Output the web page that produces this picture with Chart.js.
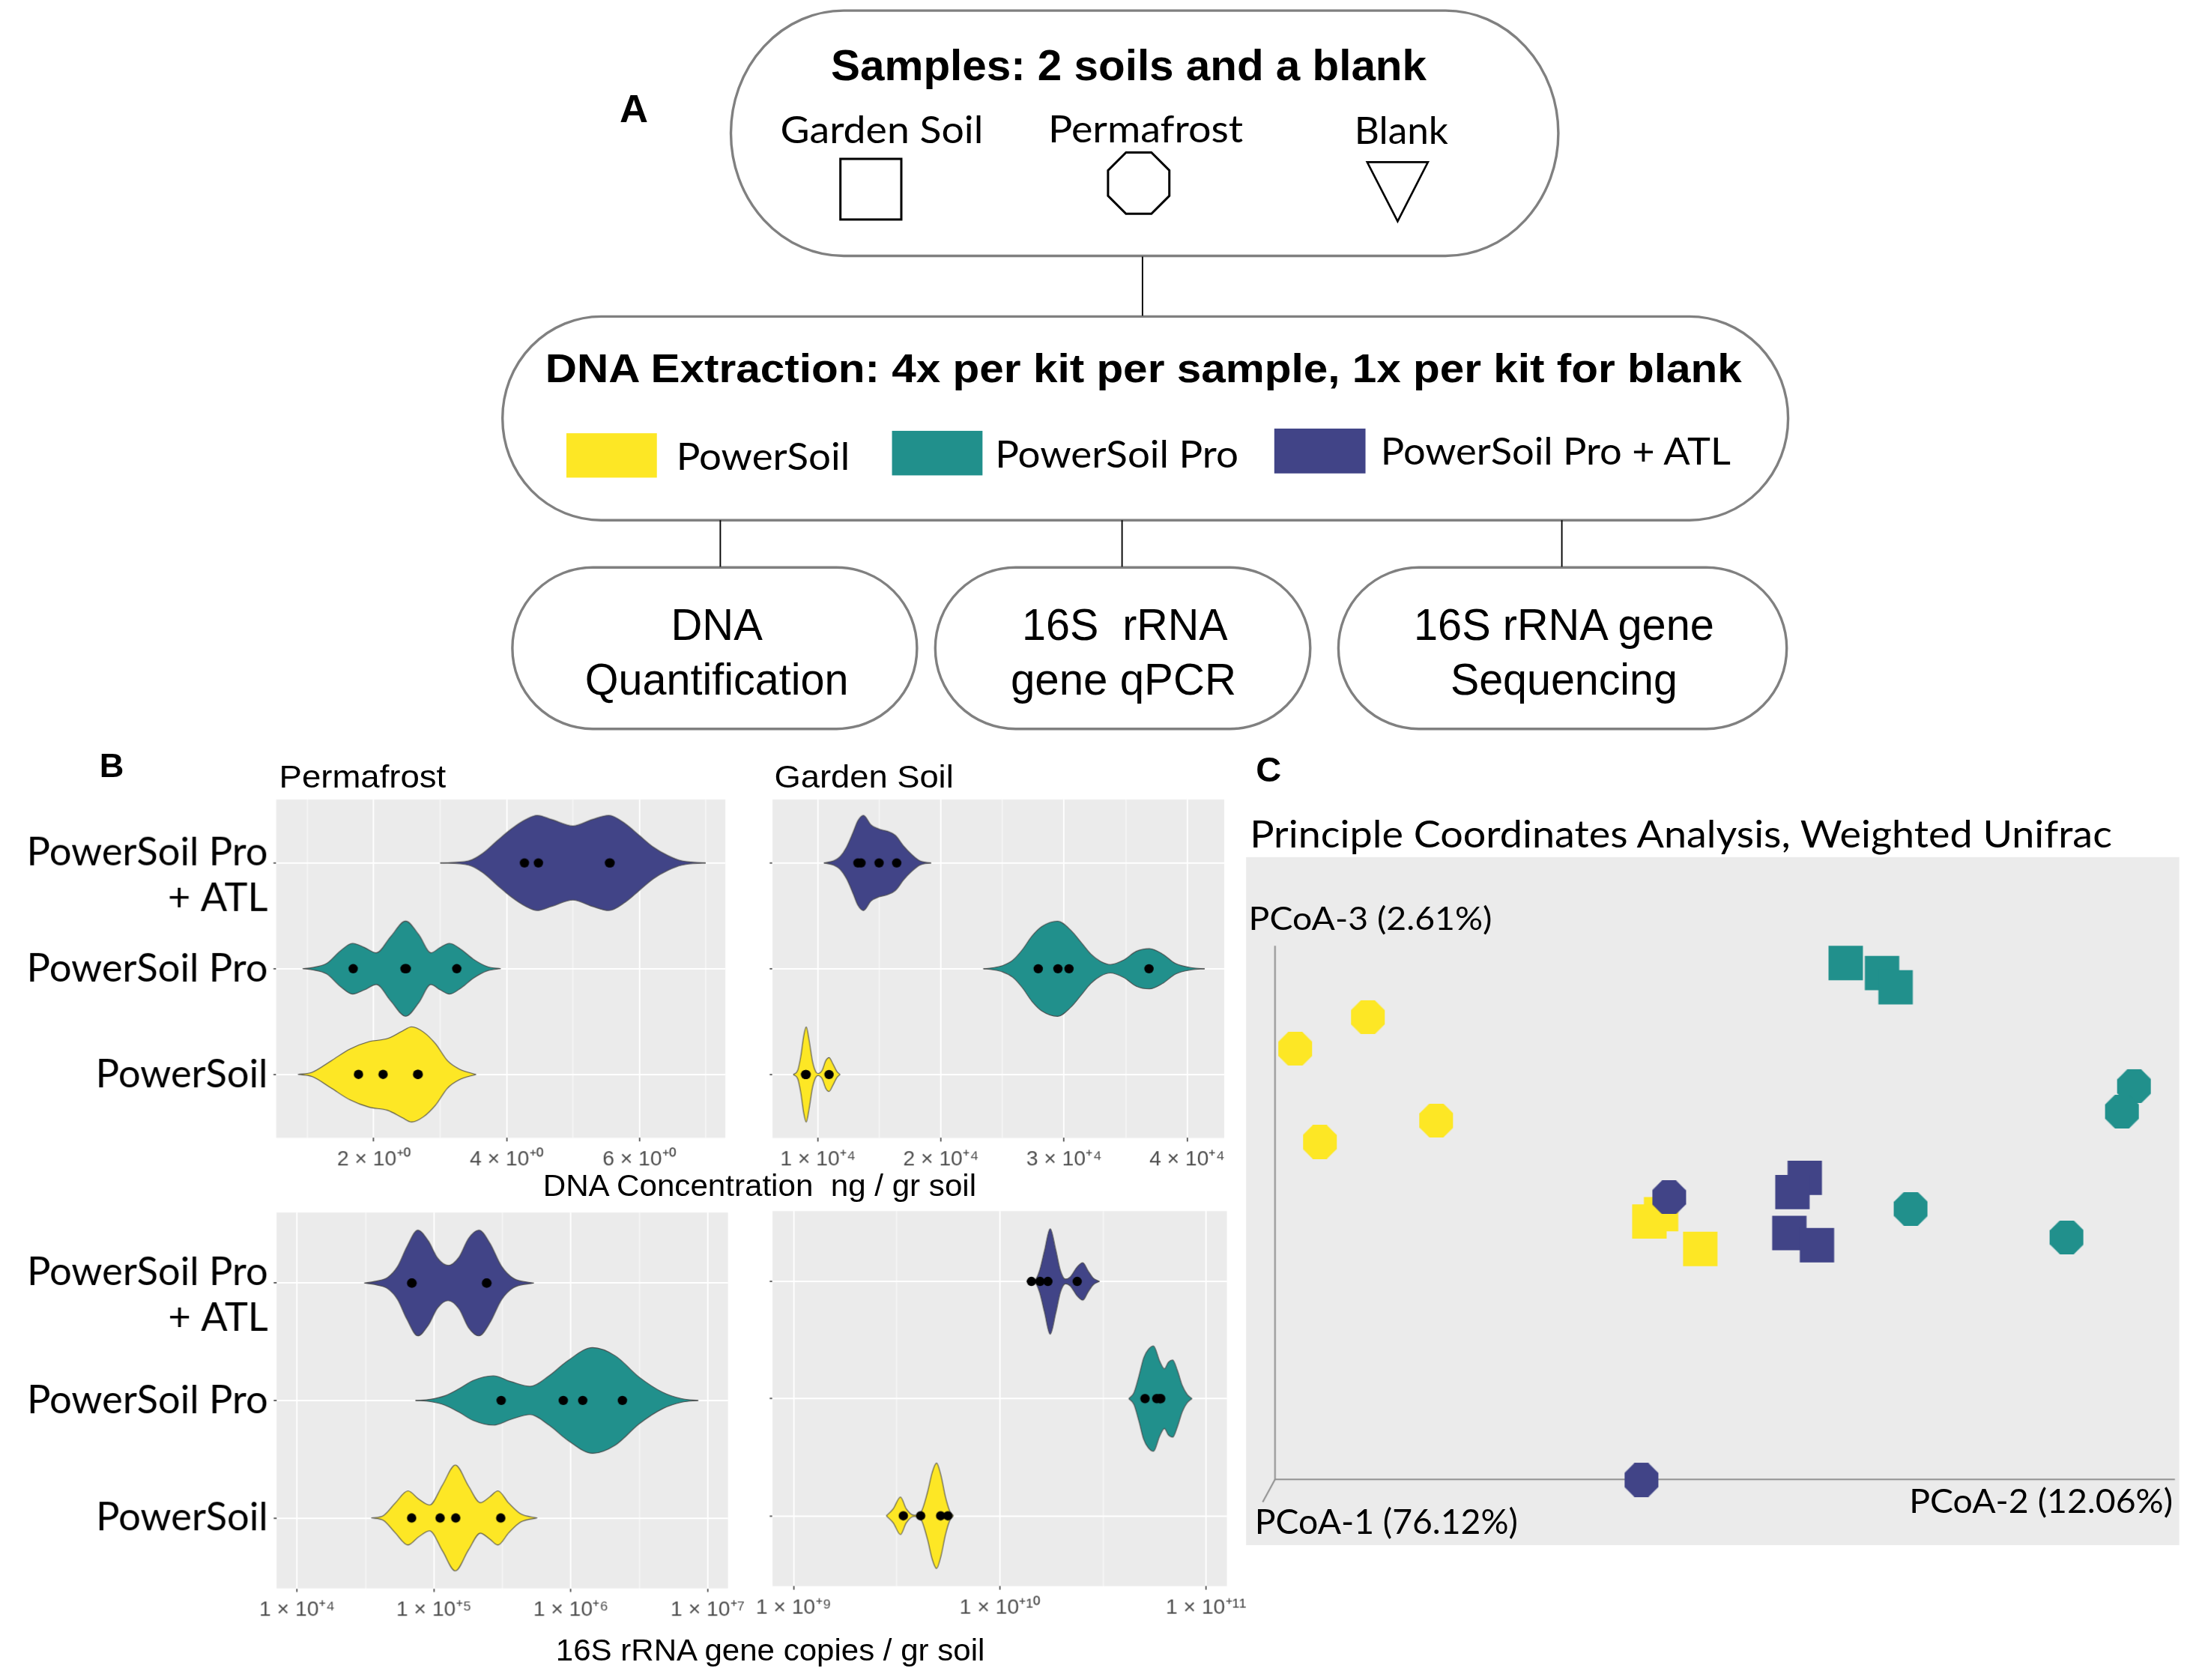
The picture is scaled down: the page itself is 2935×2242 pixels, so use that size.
<!DOCTYPE html>
<html>
<head>
<meta charset="utf-8">
<script src="https://cdn.jsdelivr.net/npm/chart.js@4.4.1/dist/chart.umd.min.js"></script>
<style>
html,body{margin:0;padding:0;background:#fff;overflow:hidden;width:2935px;height:2242px}
#wrap{position:absolute;left:0;top:0;width:1560px;height:1192px;transform:scale(1.881410);transform-origin:0 0;}
#wrap canvas{position:absolute}
#ov{position:absolute;left:0;top:0;pointer-events:none;z-index:5}
.b{font-family:"Liberation Sans",Arial,sans-serif;font-weight:bold}
.a{font-family:"Liberation Sans",Arial,sans-serif}
.c{font-family:Lato,"Open Sans",sans-serif}
</style>
</head>
<body>
<div id="wrap">
<svg id="ov" width="1560" height="1192" viewBox="0 0 1560 1192">
  <g fill="none" stroke="#808080" stroke-width="1.8">
    <rect x="518.5" y="7.5" width="587" height="174" rx="80" ry="87"/>
    <rect x="356.5" y="224.5" width="912" height="144.5" rx="70" ry="72"/>
    <rect x="363.5" y="402.5" width="287" height="114.5" rx="57" ry="57"/>
    <rect x="663.5" y="402.5" width="266" height="114.5" rx="57" ry="57"/>
    <rect x="949.5" y="402.5" width="318" height="114.5" rx="57" ry="57"/>
  </g>
  <g stroke="#000" stroke-width="1">
    <line x1="810.5" y1="182" x2="810.5" y2="224"/>
    <line x1="511" y1="369" x2="511" y2="402"/>
    <line x1="796" y1="369" x2="796" y2="402"/>
    <line x1="1108" y1="369" x2="1108" y2="402"/>
  </g>
  <rect x="596.2" y="112.7" width="43.2" height="43" fill="#fff" stroke="#000" stroke-width="1.6"/>
  <polygon points="829.55,120.89 829.55,138.91 816.81,151.65 798.79,151.65 786.05,138.91 786.05,120.89 798.79,108.15 816.81,108.15" fill="#fff" stroke="#000" stroke-width="1.6"/>
  <polygon points="969.9,115 1013,115 991.5,157" fill="#fff" stroke="#000" stroke-width="1.4"/>
  <rect x="401.8" y="307.3" width="64.2" height="31.5" fill="#FDE725"/>
  <rect x="632.8" y="305.6" width="64.2" height="31.6" fill="#21908C"/>
  <rect x="904" y="304" width="64.7" height="31.8" fill="#414487"/>

  <text class="b" x="439.6" y="86.6" font-size="28">A</text>
  <text class="b" x="589.5" y="56.9" font-size="30.5" textLength="422.5" lengthAdjust="spacingAndGlyphs">Samples: 2 soils and a blank</text>
  <text class="c" x="553.6" y="101.6" font-size="26.5" textLength="143.9" lengthAdjust="spacingAndGlyphs">Garden Soil</text>
  <text class="c" x="743.6" y="100.9" font-size="26.5" textLength="138.2" lengthAdjust="spacingAndGlyphs">Permafrost</text>
  <text class="c" x="960.9" y="102" font-size="26.5" textLength="66.5" lengthAdjust="spacingAndGlyphs">Blank</text>
  <text class="b" x="386.8" y="271.2" font-size="29" textLength="848.9" lengthAdjust="spacingAndGlyphs">DNA Extraction: 4x per kit per sample, 1x per kit for blank</text>
  <text class="c" x="479.8" y="333.4" font-size="26.5" textLength="123" lengthAdjust="spacingAndGlyphs">PowerSoil</text>
  <text class="c" x="706" y="331.5" font-size="26.5" textLength="172.6" lengthAdjust="spacingAndGlyphs">PowerSoil Pro</text>
  <text class="c" x="979.5" y="329.8" font-size="26.5" textLength="248.3" lengthAdjust="spacingAndGlyphs">PowerSoil Pro + ATL</text>
  <g class="a" font-size="31" text-anchor="middle" style="white-space:pre">
    <text x="508.5" y="454" textLength="65" lengthAdjust="spacingAndGlyphs">DNA</text>
    <text x="508.5" y="492.5" textLength="187" lengthAdjust="spacingAndGlyphs">Quantification</text>
    <text x="798" y="454" textLength="146" lengthAdjust="spacingAndGlyphs" xml:space="preserve">16S  rRNA</text>
    <text x="797" y="492.5" textLength="160" lengthAdjust="spacingAndGlyphs">gene qPCR</text>
    <text x="1109.5" y="454" textLength="213" lengthAdjust="spacingAndGlyphs">16S rRNA gene</text>
    <text x="1109.5" y="492.5" textLength="161" lengthAdjust="spacingAndGlyphs">Sequencing</text>
  </g>

  <text class="b" x="70.5" y="551" font-size="24">B</text>
  <text class="a" x="198" y="558.8" font-size="23" textLength="118.4" lengthAdjust="spacingAndGlyphs">Permafrost</text>
  <text class="a" x="549.3" y="558.8" font-size="23" textLength="127.2" lengthAdjust="spacingAndGlyphs">Garden Soil</text>
  <text class="a" x="385.2" y="848.5" font-size="22" textLength="307.4" lengthAdjust="spacingAndGlyphs" xml:space="preserve" style="white-space:pre">DNA Concentration  ng / gr soil</text>
  <text class="a" x="394.3" y="1178" font-size="22" textLength="304.3" lengthAdjust="spacingAndGlyphs">16S rRNA gene copies / gr soil</text>

  <text class="b" x="891" y="554.6" font-size="25">C</text>
  <text class="c" x="886.7" y="601.3" font-size="27" textLength="611.6" lengthAdjust="spacingAndGlyphs">Principle Coordinates Analysis, Weighted Unifrac</text>
  <text class="c" x="885.8" y="659.6" font-size="23" textLength="172.7" lengthAdjust="spacingAndGlyphs">PCoA-3 (2.61%)</text>
  <text class="c" x="890.2" y="1087.8" font-size="24.5" textLength="186.6" lengthAdjust="spacingAndGlyphs">PCoA-1 (76.12%)</text>
  <text class="c" x="1354.4" y="1072.9" font-size="24" textLength="187.1" lengthAdjust="spacingAndGlyphs">PCoA-2 (12.06%)</text>
</svg>
</div>
<script>
// ---------------- DATA ----------------
const kitColors = { ps: '#FDE725', psp: '#21908C', atl: '#414487' };
const kitRows = { ps: 1, psp: 2, atl: 3 };

// Panel B, top-left: Permafrost DNA concentration (ng / gr soil), linear
const pfDnaPS = [1.77, 2.14, 2.66, 2.67];
const pfDnaPSP = [1.69, 2.47, 2.49, 3.25];
const pfDnaATL = [4.27, 4.48, 5.55, 5.56];
// violin outlines: positions and half-widths (row units)
const pfDnaPS_vx = [0.86, 1.07, 1.36, 1.64, 1.93, 2.21, 2.43, 2.57, 2.75, 2.93, 3.11, 3.29, 3.54];
const pfDnaPS_vw = [0, 0.02, 0.13, 0.24, 0.31, 0.34, 0.41, 0.45, 0.40, 0.29, 0.13, 0.05, 0];
const pfDnaPSP_vx = [0.93, 1.07, 1.29, 1.50, 1.68, 1.86, 2.04, 2.25, 2.48, 2.68, 2.86, 3.00, 3.14, 3.32, 3.50, 3.71, 3.91];
const pfDnaPSP_vw = [0, 0.01, 0.05, 0.17, 0.24, 0.20, 0.15, 0.30, 0.45, 0.32, 0.15, 0.20, 0.24, 0.18, 0.09, 0.02, 0];
const pfDnaATL_vx = [3.00, 3.43, 3.64, 3.86, 4.07, 4.29, 4.46, 4.68, 5.00, 5.29, 5.54, 5.79, 6.00, 6.21, 6.43, 6.64, 7.00];
const pfDnaATL_vw = [0, 0.02, 0.09, 0.21, 0.32, 0.41, 0.45, 0.41, 0.35, 0.41, 0.45, 0.37, 0.26, 0.15, 0.07, 0.02, 0];
const pfDnaRange = [0.531, 7.296];
const pfDnaTicks = [2, 4, 6];
const pfDnaTickLabels = ['2 × 10⁺⁰', '4 × 10⁺⁰', '6 × 10⁺⁰'];
const pfDnaMinor = [1, 3, 5, 7];

// Panel B, top-right: Garden Soil DNA concentration (ng / gr soil), linear
const gsDnaPS = [9000, 9020, 9040, 10900];
const gsDnaPSP = [27900, 29500, 30400, 36900];
const gsDnaATL = [13250, 13500, 14970, 16400];
const gsDnaPS_vx = [8000, 8360, 8620, 8840, 9050, 9290, 9550, 9810, 10000, 10340, 10630, 10900, 11220, 11530, 11800];
const gsDnaPS_vw = [0, 0.04, 0.18, 0.36, 0.45, 0.32, 0.13, 0.03, 0.01, 0.04, 0.13, 0.16, 0.10, 0.03, 0];
const gsDnaPSP_vx = [23440, 24230, 25000, 25820, 26610, 27400, 28200, 29470, 30580, 31380, 32170, 32960, 33760, 34810, 35870, 36930, 37990, 39050, 40370, 41430];
const gsDnaPSP_vw = [0, 0.01, 0.03, 0.08, 0.18, 0.31, 0.40, 0.45, 0.36, 0.25, 0.14, 0.07, 0.04, 0.08, 0.165, 0.19, 0.14, 0.05, 0.01, 0];
const gsDnaATL_vx = [10480, 11270, 11800, 12330, 12860, 13250, 13700, 14310, 14970, 15630, 16300, 16960, 17620, 18280, 19200];
const gsDnaATL_vw = [0, 0.02, 0.06, 0.15, 0.29, 0.40, 0.45, 0.36, 0.32, 0.30, 0.26, 0.16, 0.08, 0.02, 0];
const gsDnaRange = [6310, 43014];
const gsDnaTicks = [10000, 20000, 30000, 40000];
const gsDnaTickLabels = ['1 × 10⁺⁴', '2 × 10⁺⁴', '3 × 10⁺⁴', '4 × 10⁺⁴'];
const gsDnaMinor = [15000, 25000, 35000];

// Panel B, bottom-left: Permafrost 16S rRNA gene copies / gr soil (log10 values)
const pf16sPS = [4.837, 5.045, 5.159, 5.488];
const pf16sPSP = [5.491, 5.945, 6.087, 6.377];
const pf16sATL = [4.837, 4.840, 5.384, 5.387];
const pf16sPS_vx = [4.543, 4.63, 4.716, 4.81, 4.889, 4.969, 5.062, 5.156, 5.253, 5.339, 5.408, 5.467, 5.547, 5.633, 5.754];
const pf16sPS_vw = [0, 0.02, 0.125, 0.23, 0.16, 0.11, 0.28, 0.45, 0.27, 0.13, 0.18, 0.23, 0.125, 0.035, 0];
const pf16sPSP_vx = [4.865, 4.976, 5.08, 5.183, 5.287, 5.433, 5.564, 5.702, 5.841, 5.979, 6.159, 6.325, 6.498, 6.671, 6.81, 6.931];
const pf16sPSP_vw = [0, 0.01, 0.04, 0.10, 0.17, 0.21, 0.16, 0.12, 0.21, 0.34, 0.45, 0.38, 0.20, 0.07, 0.015, 0];
const pf16sATL_vx = [4.491, 4.595, 4.664, 4.734, 4.803, 4.882, 4.958, 5.028, 5.104, 5.183, 5.253, 5.329, 5.408, 5.495, 5.581, 5.73];
const pf16sATL_vw = [0, 0.02, 0.05, 0.14, 0.31, 0.45, 0.36, 0.21, 0.15, 0.22, 0.38, 0.45, 0.34, 0.14, 0.04, 0];
const pf16sRange = [3.8495, 7.148];
const pf16sTicks = [1e4, 1e5, 1e6, 1e7];
const pf16sTickLabels = ['1 × 10⁺⁴', '1 × 10⁺⁵', '1 × 10⁺⁶', '1 × 10⁺⁷'];
const pf16sMinor = [31623, 316228, 3162278];

// Panel B, bottom-right: Garden Soil 16S rRNA gene copies / gr soil (log10 values)
const gs16sPS = [9.532, 9.616, 9.713, 9.748];
const gs16sPSP = [10.704, 10.761, 10.776, 10.780];
const gs16sATL = [10.153, 10.195, 10.233, 10.375];
const gs16sPS_vx = [9.449, 9.483, 9.518, 9.546, 9.583, 9.617, 9.649, 9.672, 9.693, 9.715, 9.735, 9.756, 9.775];
const gs16sPS_vw = [0, 0.06, 0.16, 0.06, 0.005, 0.03, 0.20, 0.37, 0.45, 0.34, 0.17, 0.045, 0];
const gs16sPSP_vx = [10.625, 10.65, 10.674, 10.698, 10.72, 10.745, 10.775, 10.798, 10.817, 10.838, 10.861, 10.885, 10.909, 10.932];
const gs16sPSP_vw = [0, 0.05, 0.19, 0.35, 0.42, 0.45, 0.32, 0.255, 0.31, 0.33, 0.24, 0.11, 0.035, 0];
const gs16sATL_vx = [10.129, 10.169, 10.192, 10.216, 10.244, 10.271, 10.294, 10.318, 10.342, 10.373, 10.402, 10.428, 10.452, 10.483];
const gs16sATL_vw = [0, 0.01, 0.09, 0.26, 0.45, 0.27, 0.09, 0.02, 0.04, 0.12, 0.16, 0.09, 0.03, 0];
const gs16sRange = [8.8974, 11.101];
const gs16sTicks = [1e9, 1e10, 1e11];
const gs16sTickLabels = ['1 × 10⁺⁹', '1 × 10⁺¹⁰', '1 × 10⁺¹¹'];
const gs16sMinor = [3.1623e9, 3.1623e10];

const kitLabels = { 1: 'PowerSoil', 2: 'PowerSoil Pro', 3: ['PowerSoil Pro', '+ ATL'] };

// Panel C: PCoA (weighted UniFrac), projected plot coordinates (0-100)
const pcoaGardenPS_x = [44.45, 43.20, 48.65];
const pcoaGardenPS_y = [48.11, 47.05, 43.07];
const pcoaGardenPSP_x = [64.23, 68.12, 69.57];
const pcoaGardenPSP_y = [84.61, 83.16, 81.09];
const pcoaGardenATL_x = [59.84, 58.52, 58.19, 61.15];
const pcoaGardenATL_y = [53.40, 51.33, 45.37, 43.61];
const pcoaPermPS_x = [13.04, 5.26, 20.38, 7.89];
const pcoaPermPS_y = [76.74, 72.15, 61.74, 58.61];
const pcoaPermPSP_x = [95.13, 93.82, 71.20, 87.91];
const pcoaPermPSP_y = [66.70, 63.03, 48.89, 44.75];
const pcoaPermATL_x = [45.30, 42.34];
const pcoaPermATL_y = [50.57, 9.49];
const pcoaFrame_x = [3.10, 3.10, 99.49];
const pcoaFrame_y = [87.13, 9.57, 9.57];
const pcoaDiag_x = [3.10, 1.78];
const pcoaDiag_y = [9.57, 6.27];

// ---------------- LAYOUT ----------------
const S = 2935 / 1560;
const wrap = document.getElementById('wrap');
const AREA = {
  tl: { l: 195.8, t: 567.3, r: 514.1, b: 807.0 },
  tr: { l: 547.5, t: 566.7, r: 867.8, b: 806.5 },
  bl: { l: 196.0, t: 859.6, r: 516.0, b: 1126.0 },
  br: { l: 547.6, t: 859.3, r: 869.9, b: 1125.0 },
  pc: { l: 883.6, t: 608.0, r: 1545.4, b: 1096.0 }
};
Chart.defaults.font.family = 'Liberation Sans';

const mctx = document.createElement('canvas').getContext('2d');
mctx.font = '100px Lato';
const yFont = 100 * 171 / mctx.measureText('PowerSoil Pro').width;

const bgPlugin = {
  id: 'panelBg',
  beforeDraw(chart) {
    const { ctx, chartArea: a } = chart;
    ctx.save();
    ctx.fillStyle = '#EBEBEB';
    ctx.fillRect(a.left, a.top, a.right - a.left, a.bottom - a.top);
    ctx.restore();
  }
};

function makeCanvas(left, top, w, h) {
  const cv = document.createElement('canvas');
  cv.width = w; cv.height = h;
  cv.style.left = left + 'px'; cv.style.top = top + 'px';
  wrap.insertBefore(cv, document.getElementById('ov'));
  return cv;
}

const OUTLINE = 'rgba(70,70,70,0.9)';

function violinChart(area, spec) {
  const padT = 48;
  const left = area.l - spec.yW, top = area.t - padT;
  const w = Math.ceil(area.r - left + 34), h = Math.ceil(area.b - top + 42);
  const padR = w - (area.r - left), xH = h - (area.b - top);
  const cv = makeCanvas(left, top, w, h);
  const tx = spec.log ? (e => Math.pow(10, e)) : (v => v);
  const datasets = [];
  spec.violins.forEach(v => datasets.push({
    type: 'scatter', data: v.dots.map(d => ({ x: tx(d), y: v.row })),
    pointRadius: 3.3, pointHoverRadius: 3.3, pointBackgroundColor: '#000', pointBorderWidth: 0
  }));
  spec.violins.forEach(v => {
    datasets.push({
      type: 'line', data: v.vx.map((x, i) => ({ x: tx(x), y: v.row + v.vw[i] })),
      borderColor: OUTLINE, borderWidth: 0.6, pointRadius: 0, cubicInterpolationMode: 'monotone',
      fill: '+1', backgroundColor: v.color
    });
    datasets.push({
      type: 'line', data: v.vx.map((x, i) => ({ x: tx(x), y: v.row - v.vw[i] })),
      borderColor: OUTLINE, borderWidth: 0.6, pointRadius: 0, cubicInterpolationMode: 'monotone',
      fill: false
    });
  });
  const near = (a, b) => Math.abs(a - b) <= 1e-6 * Math.abs(b);
  const isMajor = val => spec.majors.some(m => near(val, m));
  const atlLabelAt = 3 - (spec.atlShift || 0);
  const isAtlLabel = val => spec.yLabels && Math.abs(val - atlLabelAt) < 1e-6;
  const yTicks = spec.yLabels ? [1, 2, atlLabelAt, 3] : [1, 2, 3];
  const xRange = spec.log ? spec.range.map(e => Math.pow(10, e)) : spec.range;
  new Chart(cv, {
    type: 'line',
    data: { datasets },
    options: {
      responsive: false, animation: false, devicePixelRatio: S, events: [],
      layout: { autoPadding: false, padding: { left: 0, right: padR, top: padT, bottom: 0 } },
      plugins: { legend: { display: false }, tooltip: { enabled: false },
        filler: { drawTime: 'beforeDatasetsDraw', propagate: false } },
      scales: {
        x: {
          type: spec.log ? 'logarithmic' : 'linear', min: xRange[0], max: xRange[1],
          afterBuildTicks: s => { s.ticks = spec.majors.concat(spec.minors).sort((a, b) => a - b).map(v => ({ value: v })); },
          afterFit: s => { s.height = xH; },
          ticks: {
            autoSkip: false, maxRotation: 0, minRotation: 0, padding: 4, color: '#4D4D4D',
            font: { family: 'Liberation Sans', size: 15 },
            callback: val => { const i = spec.majors.findIndex(m => near(val, m)); return i >= 0 ? spec.labels[i] : ''; }
          },
          grid: {
            color: '#FFFFFF',
            lineWidth: c => (c.tick && isMajor(c.tick.value)) ? 1 : 0.5,
            tickLength: 2.5, tickWidth: 0.8,
            tickColor: c => (c.tick && isMajor(c.tick.value)) ? '#333333' : 'rgba(0,0,0,0)'
          },
          border: { display: false }
        },
        y: {
          type: 'linear', min: 0.4, max: 3.6,
          afterBuildTicks: s => { s.ticks = yTicks.map(v => ({ value: v })); },
          afterFit: s => { s.width = spec.yW; },
          ticks: {
            autoSkip: false, padding: 4, color: '#000',
            font: { family: 'Lato', size: yFont, lineHeight: 32.6 / yFont },
            callback: val => {
              if (!spec.yLabels) return '';
              if (isAtlLabel(val)) return kitLabels[3];
              if (Math.abs(val - 3) < 1e-6) return '';
              return kitLabels[Math.round(val)];
            }
          },
          grid: {
            color: c => (c.tick && isAtlLabel(c.tick.value)) ? 'rgba(0,0,0,0)' : '#FFFFFF',
            lineWidth: 1, tickLength: 2, tickWidth: 0.8,
            tickColor: c => (c.tick && isAtlLabel(c.tick.value)) ? 'rgba(0,0,0,0)' : '#333333'
          },
          border: { display: false }
        }
      }
    },
    plugins: [bgPlugin]
  });
}

function octagonImage(color) {
  const c = document.createElement('canvas');
  c.width = 96; c.height = 96;
  const g = c.getContext('2d');
  const R = 48 / Math.cos(Math.PI / 8);
  g.fillStyle = color;
  g.beginPath();
  for (let k = 0; k < 8; k++) {
    const a = Math.PI / 8 + k * Math.PI / 4;
    const px = 48 + R * Math.cos(a), py = 48 + R * Math.sin(a);
    if (k) g.lineTo(px, py); else g.moveTo(px, py);
  }
  g.closePath(); g.fill();
  const img = new Image();
  img.src = c.toDataURL();
  img.width = 24; img.height = 24;
  return img;
}
const oct = { ps: octagonImage(kitColors.ps), psp: octagonImage(kitColors.psp), atl: octagonImage(kitColors.atl) };

function pts(xs, ys) { return xs.map((x, i) => ({ x, y: ys[i] })); }

function pcoaChart() {
  const a = AREA.pc;
  const cv = makeCanvas(a.l, a.t, Math.round(a.r - a.l), Math.round(a.b - a.t));
  const sq = (xs, ys, col) => ({ type: 'scatter', data: pts(xs, ys), pointStyle: 'rect', pointRadius: 17.25,
    pointHoverRadius: 17.25, pointBackgroundColor: col, pointBorderWidth: 0, pointBorderColor: 'rgba(0,0,0,0)' });
  const oc = (xs, ys, img) => ({ type: 'scatter', data: pts(xs, ys), pointStyle: img, pointRadius: 12, pointHoverRadius: 12 });
  new Chart(cv, {
    type: 'scatter',
    data: { datasets: [
      oc(pcoaPermATL_x, pcoaPermATL_y, oct.atl),
      sq(pcoaGardenPS_x, pcoaGardenPS_y, kitColors.ps),
      sq(pcoaGardenATL_x, pcoaGardenATL_y, kitColors.atl),
      sq(pcoaGardenPSP_x, pcoaGardenPSP_y, kitColors.psp),
      oc(pcoaPermPSP_x, pcoaPermPSP_y, oct.psp),
      oc(pcoaPermPS_x, pcoaPermPS_y, oct.ps),
      { type: 'line', data: pts(pcoaFrame_x, pcoaFrame_y), borderColor: '#929292', borderWidth: 1.1, pointRadius: 0, fill: false, tension: 0 },
      { type: 'line', data: pts(pcoaDiag_x, pcoaDiag_y), borderColor: '#929292', borderWidth: 1.1, pointRadius: 0, fill: false, tension: 0 }
    ] },
    options: {
      responsive: false, animation: false, devicePixelRatio: S, events: [],
      layout: { autoPadding: false, padding: 0 },
      plugins: { legend: { display: false }, tooltip: { enabled: false } },
      scales: {
        x: { type: 'linear', min: 0, max: 100, display: false },
        y: { type: 'linear', min: 0, max: 100, display: false }
      }
    },
    plugins: [bgPlugin]
  });
}

function build() {
  violinChart(AREA.tl, { yW: AREA.tl.l, yLabels: true, atlShift: 0.117, log: false,
    range: pfDnaRange, majors: pfDnaTicks, labels: pfDnaTickLabels, minors: pfDnaMinor,
    violins: [
      { row: kitRows.ps, color: kitColors.ps, vx: pfDnaPS_vx, vw: pfDnaPS_vw, dots: pfDnaPS },
      { row: kitRows.psp, color: kitColors.psp, vx: pfDnaPSP_vx, vw: pfDnaPSP_vw, dots: pfDnaPSP },
      { row: kitRows.atl, color: kitColors.atl, vx: pfDnaATL_vx, vw: pfDnaATL_vw, dots: pfDnaATL }
    ] });
  violinChart(AREA.tr, { yW: 30, yLabels: false, log: false,
    range: gsDnaRange, majors: gsDnaTicks, labels: gsDnaTickLabels, minors: gsDnaMinor,
    violins: [
      { row: kitRows.ps, color: kitColors.ps, vx: gsDnaPS_vx, vw: gsDnaPS_vw, dots: gsDnaPS },
      { row: kitRows.psp, color: kitColors.psp, vx: gsDnaPSP_vx, vw: gsDnaPSP_vw, dots: gsDnaPSP },
      { row: kitRows.atl, color: kitColors.atl, vx: gsDnaATL_vx, vw: gsDnaATL_vw, dots: gsDnaATL }
    ] });
  violinChart(AREA.bl, { yW: AREA.bl.l, yLabels: true, atlShift: 0.104, log: true,
    range: pf16sRange, majors: pf16sTicks, labels: pf16sTickLabels, minors: pf16sMinor,
    violins: [
      { row: kitRows.ps, color: kitColors.ps, vx: pf16sPS_vx, vw: pf16sPS_vw, dots: pf16sPS },
      { row: kitRows.psp, color: kitColors.psp, vx: pf16sPSP_vx, vw: pf16sPSP_vw, dots: pf16sPSP },
      { row: kitRows.atl, color: kitColors.atl, vx: pf16sATL_vx, vw: pf16sATL_vw, dots: pf16sATL }
    ] });
  violinChart(AREA.br, { yW: 30, yLabels: false, log: true,
    range: gs16sRange, majors: gs16sTicks, labels: gs16sTickLabels, minors: gs16sMinor,
    violins: [
      { row: kitRows.ps, color: kitColors.ps, vx: gs16sPS_vx, vw: gs16sPS_vw, dots: gs16sPS },
      { row: kitRows.psp, color: kitColors.psp, vx: gs16sPSP_vx, vw: gs16sPSP_vw, dots: gs16sPSP },
      { row: kitRows.atl, color: kitColors.atl, vx: gs16sATL_vx, vw: gs16sATL_vw, dots: gs16sATL }
    ] });
  pcoaChart();
}

const imgs = [oct.ps, oct.psp, oct.atl];
Promise.all(imgs.map(im => (im.decode ? im.decode().catch(() => {}) : Promise.resolve()))).then(build);
</script>
</body>
</html>
